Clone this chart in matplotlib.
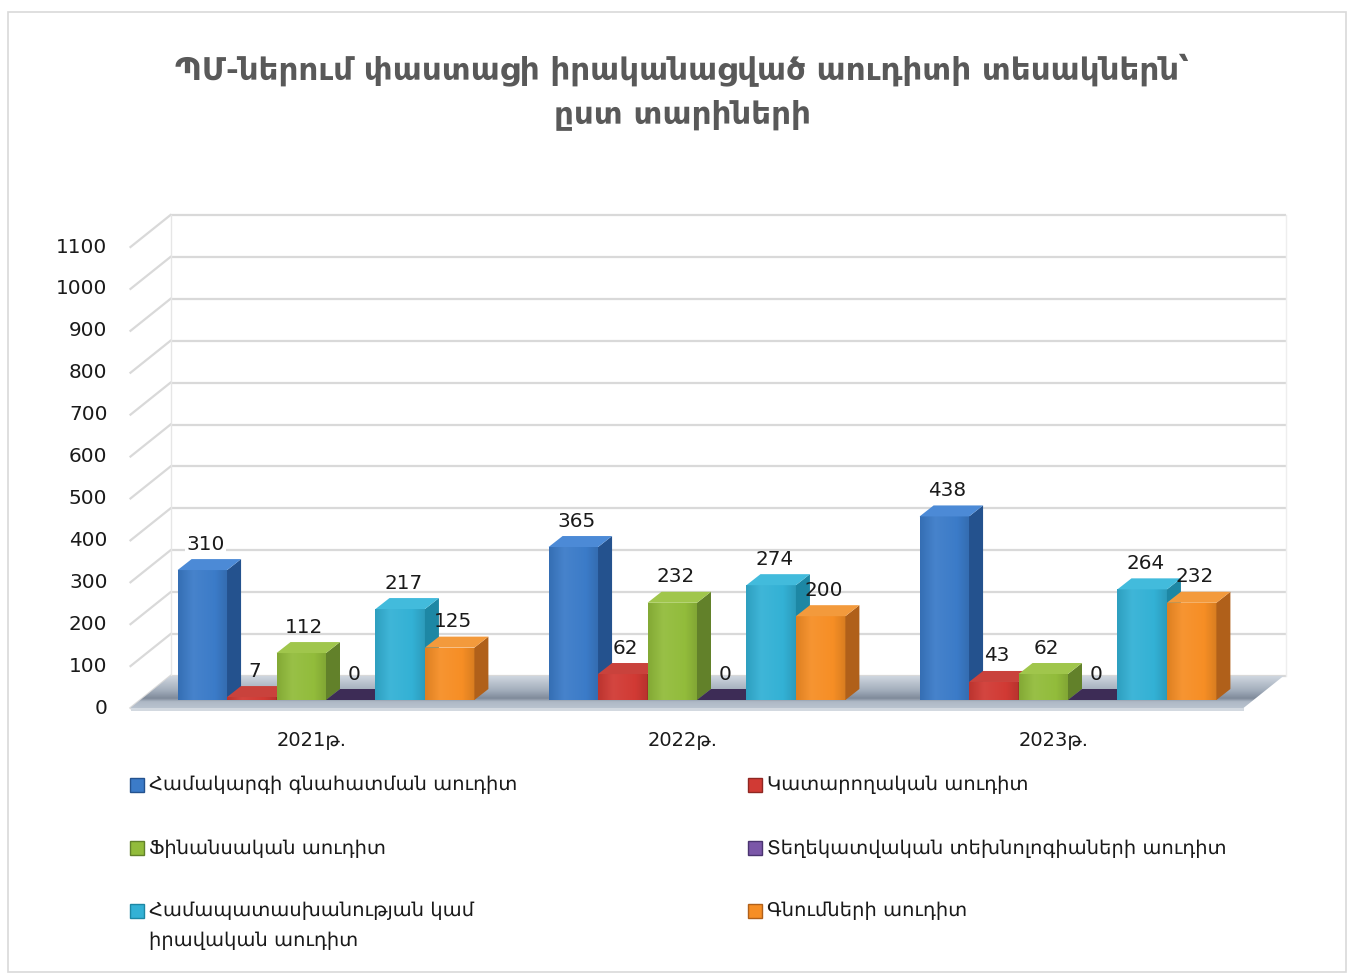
import matplotlib
matplotlib.use('Agg')
import numpy as np
import matplotlib.pyplot as plt
from matplotlib.patches import Polygon, Rectangle
from matplotlib.colors import LinearSegmentedColormap, to_rgb

plt.rcParams['font.family'] = ['DejaVu Sans']

# ---------------- data ----------------
years = ['2021թ.', '2022թ.', '2023թ.']
series_names = ['Համակարգի գնահատման աուդիտ',
                'Կատարողական աուդիտ',
                'Ֆինանսական աուդիտ',
                'Տեղեկատվական տեխնոլոգիաների աուդիտ',
                'Համապատասխանության կամ\nիրավական աուդիտ',
                'Գնումների աուդիտ']
system_audit = [310, 365, 438]
performance_audit = [7, 62, 43]
financial_audit = [112, 232, 62]
it_audit = [0, 0, 0]
compliance_audit = [217, 274, 264]
procurement_audit = [125, 200, 232]
all_series = [system_audit, performance_audit, financial_audit,
              it_audit, compliance_audit, procurement_audit]
y_ticks = list(range(0, 1101, 100))
title_lines = ['ՊՄ-ներում փաստացի իրականացված աուդիտի տեսակներն՝', 'ըստ տարիների']

# ---------------- styles ----------------
front_cols = ['#3b7bc8', '#d13a34', '#92bc3b', '#7b57a8', '#33b1d5', '#f68e25']
side_cols = ['#24528e', '#8f2722', '#62812a', '#4a3470', '#1d87a4', '#b0601a']
top_cols = ['#4c8ad6', '#c9423c', '#a0c64c', '#3d2c56', '#42bbdc', '#f39a3c']

W, H = 1352, 974
fig = plt.figure(figsize=(W / 100, H / 100), dpi=100)
ax = fig.add_axes([0, 0, 1, 1])

k = 461 / 1100.0      # px per value unit
cat = 371.0           # px per category
x0 = 326.0            # px of first group center (bar plane)
base_py = 700.0       # px of bar base
XLIM = (-x0 / cat, (W - x0) / cat)
YLIM = ((base_py - H) / k, base_py / k)
ax.axis('off')


def dxp(px):
    return px / cat


def dyp(px):
    return px / k


def shade(c, f):
    r, g, b = to_rgb(c)
    if f >= 1:
        return (r + (1 - r) * (f - 1), g + (1 - g) * (f - 1), b + (1 - b) * (f - 1))
    return (r * f, g * f, b * f)


# outer border
fig.patches.append(Rectangle((8 / W, 1 - 972 / H), (1346 - 8) / W, (972 - 12) / H,
                             transform=fig.transFigure, fill=False,
                             edgecolor='#d9d9d9', linewidth=1.2))

# title
fig.text(682 / W, 1 - 70 / H, title_lines[0], ha='center', va='center',
         fontsize=22.3, fontweight='bold', color='#595959')
fig.text(682 / W, 1 - 115 / H, title_lines[1], ha='center', va='center',
         fontsize=22.3, fontweight='bold', color='#595959')

xl, xr = -0.5, 2.5
grid_c = '#d9d9d9'
# walls: gridlines
for v in y_ticks:
    yb = v + dyp(24)
    yf = v - dyp(8)
    ax.plot([xl + dxp(30), xr + dxp(32)], [yb, yb], color=grid_c, lw=1.6, zorder=1,
            solid_capstyle='butt')
    ax.plot([xl - dxp(10), xl + dxp(30)], [yf, yb], color=grid_c, lw=1.6, zorder=1)
    ax.text(xl - dxp(33), yf, str(v), ha='right', va='center', fontsize=14.4,
            color='#1a1a1a')
ax.plot([xl + dxp(30), xl + dxp(30)], [dyp(24), y_ticks[-1] + dyp(24)],
        color='#e6e6e6', lw=1.0, zorder=1)
ax.plot([xr + dxp(32), xr + dxp(32)], [dyp(24), y_ticks[-1] + dyp(24)],
        color='#eeeeee', lw=1.0, zorder=1)

# floor: top surface with gradient (light at back, shadow near bars)
floor_pts = [(xl - dxp(10), -dyp(8)), (xr - dxp(10), -dyp(8)),
             (xr + dxp(30), dyp(24)), (xl + dxp(30), dyp(24))]
floor = Polygon(floor_pts, closed=True, facecolor='none', edgecolor='none', zorder=2)
ax.add_patch(floor)
floor_cmap = LinearSegmentedColormap.from_list(
    'floor', [(0.0, '#b9c3cf'), (0.2, '#aeb8c5'), (0.3, '#7f8a9a'),
              (0.55, '#a2adbb'), (1.0, '#cfd6df')])
grad = np.linspace(0, 1, 200).reshape(-1, 1)
im = ax.imshow(grad, extent=[xl - dxp(10), xr + dxp(30), -dyp(8), dyp(24)],
               origin='lower', aspect='auto', cmap=floor_cmap, zorder=2,
               interpolation='bilinear')
im.set_clip_path(floor)
# floor front edge
ax.add_patch(Rectangle((xl - dxp(10), -dyp(11)), (xr - xl), dyp(3),
                       facecolor='#d3d9e0', edgecolor='none', zorder=2))

# bars
n = len(all_series)
w = 0.8 / n
ddx, ddy = dxp(14), dyp(11)
bar_grad = np.linspace(0, 1, 60).reshape(1, -1)
z = 3
for i in range(len(years)):
    for j, ser in enumerate(all_series):
        v = ser[i]
        xc = i + (j - (n - 1) / 2) * w
        bars = ax.bar([xc], [v], width=w, bottom=0, color=front_cols[j],
                      edgecolor='none', zorder=z)
        if v > 0:
            cm = LinearSegmentedColormap.from_list(
                'b%d' % j, [(0, shade(front_cols[j], 0.9)), (0.3, shade(front_cols[j], 1.06)),
                            (0.75, front_cols[j]), (1, shade(front_cols[j], 0.88))])
            bim = ax.imshow(bar_grad, extent=[xc - w / 2, xc + w / 2, 0, v],
                            aspect='auto', cmap=cm, zorder=z, interpolation='bilinear')
            bim.set_clip_path(bars.patches[0])
        side = Polygon([(xc + w / 2, 0), (xc + w / 2 + ddx, ddy),
                        (xc + w / 2 + ddx, v + ddy), (xc + w / 2, v)],
                       closed=True, facecolor=side_cols[j], edgecolor='none', zorder=z)
        top = Polygon([(xc - w / 2, v), (xc + w / 2, v),
                       (xc + w / 2 + ddx, v + ddy), (xc - w / 2 + ddx, v + ddy)],
                      closed=True, facecolor=top_cols[j], edgecolor='none', zorder=z)
        ax.add_patch(side)
        ax.add_patch(top)
        z += 1
        bbox = dict(facecolor='white', edgecolor='none', pad=1.0) if j == 0 else None
        ax.text(xc + dxp(3), v + ddy + dyp(15), str(v), ha='center', va='center',
                fontsize=14.4, color='#1a1a1a', zorder=50, bbox=bbox)

# category labels
for i, yr in enumerate(years):
    ax.text(i - dxp(14), -dyp(41), yr, ha='center', va='center', fontsize=14,
            color='#1a1a1a')

ax.set_xlim(*XLIM)
ax.set_ylim(*YLIM)

# legend
leg_pos = [(130, 785), (748, 785), (130, 848), (748, 848), (130, 911), (748, 911)]
for j, (lx, ly) in enumerate(leg_pos):
    fig.patches.append(Rectangle((lx / W, 1 - (ly + 7) / H), 14 / W, 14 / H,
                                 transform=fig.transFigure, facecolor=front_cols[j],
                                 edgecolor=side_cols[j], linewidth=1.0))
    for li, line in enumerate(series_names[j].split('\n')):
        fig.text((lx + 19) / W, 1 - (ly + 30 * li) / H, line, ha='left', va='center',
                 fontsize=14, color='#1a1a1a')

fig.savefig('out.png', dpi=100)
